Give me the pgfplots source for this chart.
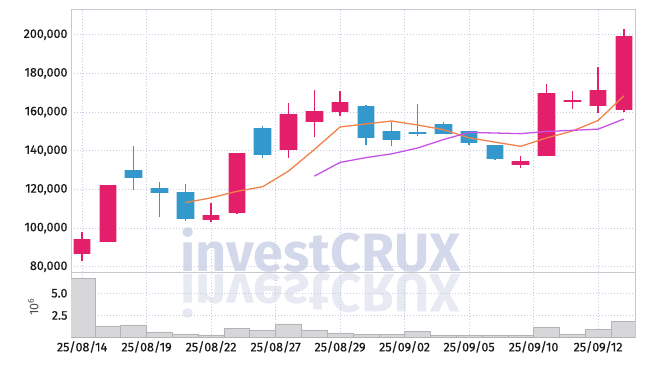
\documentclass[border=0pt]{standalone}
\usepackage{fontspec}
\setmainfont{Fira Sans}
\usepackage{pgfplots}
\usepackage{pgfplotstable}
\pgfplotsset{compat=1.18}
\definecolor{cup}{HTML}{E31F6B}
\definecolor{cdn}{HTML}{3399CC}
\definecolor{ma5}{HTML}{F0824A}
\definecolor{ma10}{HTML}{C653E8}
\definecolor{axgray}{HTML}{C6C8CE}
\definecolor{gridc}{HTML}{C5CBE0}
\definecolor{volf}{HTML}{D7D7D9}
\definecolor{vold}{HTML}{B4B4B8}
\definecolor{wm}{HTML}{D3D9EA}
\definecolor{wmr}{HTML}{E7EAF3}
% x, low, body low, body high, high
\pgfplotstableread{
x  low    bl     bh     high
0  83200  86600  94300  98000
1  92700  92900  122300 122500
5  103100 104300 106700 113100
6  107500 107900 139000 139000
8  136100 140400 158800 164700
9  147000 154600 160300 171400
10 158100 159800 165300 170700
17 131100 132700 134700 137200
18 137300 137300 170000 174500
19 161700 165000 166200 170900
20 159500 163300 171600 183100
21 160200 161200 199200 203100
}\upcandles
\pgfplotstableread{
x  low    bl     bh     high
2  119700 126100 130100 142200
3  105500 118300 120700 123700
4  103600 104800 118700 123000
7  136100 138000 151500 152700
11 143000 146800 162900 163800
12 142500 145600 150300 155100
13 147700 148400 149800 164100
14 148400 148400 153600 154600
15 142700 144100 150300 150300
16 135100 135800 143000 143000
}\downcandles
\pgfplotstableread{
x vol
0 6.67
1 1.32
2 1.43
3 0.65
4 0.42
5 0.31
6 1.02
7 0.79
8 1.54
9 0.87
10 0.54
11 0.35
12 0.35
13 0.68
14 0.23
15 0.23
16 0.23
17 0.23
18 1.13
19 0.42
20 0.90
21 1.80
}\voltable
\pgfplotsset{
  wick/.style={draw=none, no marks, forget plot,
    error bars/.cd, y dir=plus, y explicit, error mark=none,
    error bar style={draw=#1, line width=1.4pt, line cap=butt}},
  body/.style 2 args={draw=none, no marks, forget plot,
    error bars/.cd, y dir=plus, y explicit, error mark=none,
    error bar style={draw=#1, line width=#2, line cap=butt}},
}
\begin{document}
\begin{tikzpicture}
\path[use as bounding box] (0,0) rectangle (645pt,-366pt);
% watermark
\node[anchor=base, text=wm, inner sep=0pt, font=\fontsize{54}{54}\selectfont\bfseries] at (320.5pt,-271.5pt) {investCRUX};
\node[anchor=base, yscale=-1, text=wmr, inner sep=0pt, font=\fontsize{54}{54}\selectfont\bfseries] at (320.5pt,-274pt) {investCRUX};
\pgfplotsset{
  every axis/.append style={
    scale only axis, width=564pt,
    xmin=-0.43, xmax=21.43,
    xtick={0,2.5,5,7.5,10,12.5,15,17.5,20},
    scaled ticks=false,
    grid=major,
    major grid style={draw=gridc, line width=0.6pt, dash pattern=on 1pt off 2pt},
    axis line style={draw=axgray, line width=0.8pt},
    tick style={draw=none},
    ticklabel style={font=\fontsize{12.5}{12.5}\selectfont\addfontfeature{FakeBold=0.6}, text=black!90},
  }
}
\begin{axis}[at={(71pt,-9pt)}, anchor=north west, height=263.3pt,
  ymin=77100, ymax=213300,
  xticklabels={,,,,,,,,},
  ytick={80000,100000,120000,140000,160000,180000,200000},
  yticklabels={{80,000},{100,000},{120,000},{140,000},{160,000},{180,000},{200,000}},
]
\addplot[wick=cup] table[x=x, y=low, y error plus expr=\thisrow{high}-\thisrow{low}] {\upcandles};
\addplot[wick=cdn] table[x=x, y=low, y error plus expr=\thisrow{high}-\thisrow{low}] {\downcandles};
\addplot[body={cup!35}{18.5pt}] table[x=x, y=bl, y error plus expr=\thisrow{bh}-\thisrow{bl}] {\upcandles};
\addplot[body={cdn!35}{18.5pt}] table[x=x, y=bl, y error plus expr=\thisrow{bh}-\thisrow{bl}] {\downcandles};
\addplot[body={cup}{16.5pt}] table[x=x, y=bl, y error plus expr=\thisrow{bh}-\thisrow{bl}] {\upcandles};
\addplot[body={cdn}{16.5pt}] table[x=x, y=bl, y error plus expr=\thisrow{bh}-\thisrow{bl}] {\downcandles};
\addplot[ma5, line width=1.3pt, mark=none] coordinates {
(4,113141)(5,115631)(6,118983)(7,121369)(8,129462)(9,140564)(10,152289)
(11,153846)(12,155371)(13,153296)(14,150910)(15,146656)(16,144446)
(17,142267)(18,146594)(19,150163)(20,155662)(21,168352)};
\addplot[ma10, line width=1.3pt, mark=none] coordinates {
(9,126853)(10,133960)(11,136414)(12,138370)(13,141379)(14,145737)
(15,149472)(16,149146)(17,148819)(18,149945)(19,150536)(20,151159)(21,156399)};
\end{axis}
\begin{axis}[at={(71pt,-272.3pt)}, anchor=north west, height=65.4pt,
  ymin=0, ymax=7.35,
  ytick={2.5,5}, yticklabels={2.5,5.0},
  xticklabels={25/08/14,25/08/19,25/08/22,25/08/27,25/08/29,25/09/02,25/09/05,25/09/10,25/09/12},
  ylabel={10\textsuperscript{6}},
  ylabel style={at={(axis description cs:-0.067,0.47)}, anchor=center,
    font=\fontsize{12.5}{12.5}\selectfont, text=black!70},
]
\addplot[ybar, bar width=1, fill=volf, draw=vold, line width=0.6pt] table[x=x, y=vol] {\voltable};
\end{axis}
\end{tikzpicture}
\end{document}
